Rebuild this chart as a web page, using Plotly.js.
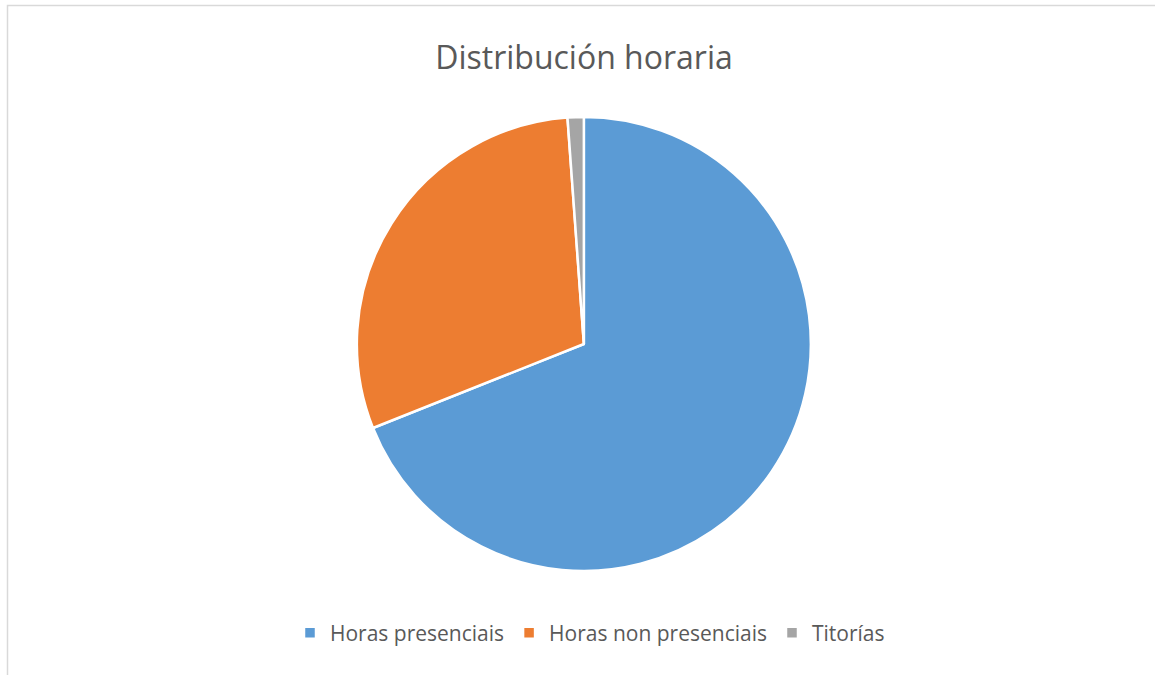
<!DOCTYPE html>
<html>
<head>
<meta charset="utf-8">
<script src="https://cdn.plot.ly/plotly-3.0.1.min.js"></script>
<style>html,body{margin:0;padding:0;background:#fff;}#chart{width:1155px;height:675px;}</style>
</head>
<body>
<div id="chart"></div>
<script>
const categories = ["Horas presenciais", "Horas non presenciais", "Titorías"];
const hours = [60, 26, 1];
const colors = ["#5B9BD5", "#ED7D31", "#A5A5A5"];

const W = 1155, H = 675;
const trace = {
  type: "pie",
  labels: categories,
  values: hours,
  sort: false,
  direction: "clockwise",
  rotation: 0,
  textinfo: "none",
  hoverinfo: "label+value+percent",
  marker: { colors: colors, line: { color: "#ffffff", width: 2.5 } },
  domain: { x: [0.2, 0.811], y: [(H - 571) / H, (H - 117) / H] }
};

const layout = {
  width: W, height: H,
  margin: { l: 0, r: 0, t: 0, b: 0 },
  paper_bgcolor: "#ffffff",
  title: {
    text: "Distribución horaria",
    x: 584 / W, xanchor: "center",
    y: 1 - 58 / H, yanchor: "middle",
    font: { family: "Open Sans, sans-serif", size: 32, color: "#595959" }
  },
  showlegend: true,
  legend: {
    orientation: "h",
    x: 590 / W, xanchor: "center",
    y: 1 - 633 / H, yanchor: "middle",
    font: { family: "Open Sans, sans-serif", size: 21, color: "#595959" },
    itemwidth: 30,
    traceorder: "normal"
  },
  shapes: [{
    type: "rect", xref: "paper", yref: "paper",
    x0: 7.5 / W, x1: 1.2, y0: -0.2, y1: 1 - 5.5 / H,
    line: { color: "#d9d9d9", width: 1.5 }
  }]
};

Plotly.newPlot("chart", [trace], layout, { displayModeBar: false });
</script>
</body>
</html>
